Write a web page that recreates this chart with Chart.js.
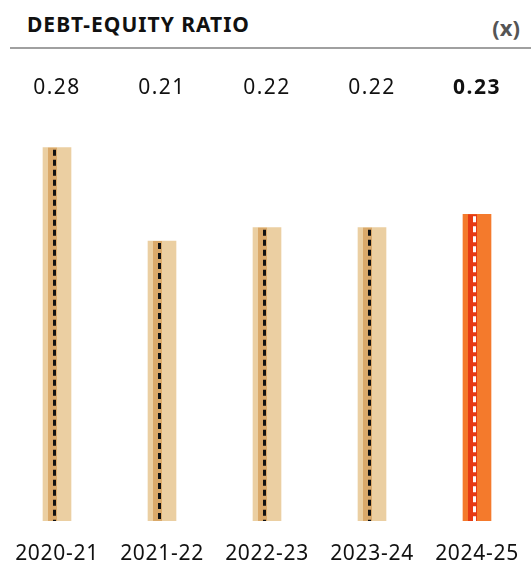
<!DOCTYPE html>
<html>
<head>
<meta charset="utf-8">
<script src="https://cdn.jsdelivr.net/npm/chart.js@4"></script>
<style>
  html, body { margin: 0; padding: 0; background: #fff; overflow: hidden; }
  body { width: 531px; height: 566px; position: relative; font-family: "Noto Sans", sans-serif; }
  .title { position: absolute; left: 27px; top: 10px; font-size: 21px; letter-spacing: 1px; font-weight: bold; color: #111; }
  .unit { position: absolute; right: 11px; top: 12px; font-size: 22px; font-weight: bold; color: #555; }
  .rule { position: absolute; left: 10px; right: 0; top: 47px; height: 2px; background: #a0a0a0; }
  .wrap { position: absolute; left: 0; top: 0; width: 531px; height: 566px; }
</style>
</head>
<body>
<div class="title">DEBT-EQUITY RATIO</div>
<div class="unit">(x)</div>
<div class="rule"></div>
<div class="wrap"><canvas id="chart"></canvas></div>
<script>
const years = ['2020-21', '2021-22', '2022-23', '2023-24', '2024-25'];
const ratios = [0.28, 0.21, 0.22, 0.22, 0.23];
const valueLabels = ['0.28', '0.21', '0.22', '0.22', '0.23'];

const lightColors = ['#ebcfa2', '#ebcfa2', '#ebcfa2', '#ebcfa2', '#f47a2c'];
const stripColors = ['#daa96a', '#daa96a', '#daa96a', '#daa96a', '#e63b14'];
const dashColors = ['#111', '#111', '#111', '#111', '#fff'];

// wider text spacing, closer to the original's font
const spacing = {
  id: 'spacing',
  beforeDraw(chart) {
    chart.ctx.letterSpacing = '0.7px';
  }
};

// inner strip, dashed line, and the values row above the bars
const barDecor = {
  id: 'barDecor',
  afterDatasetsDraw(chart) {
    const ctx = chart.ctx;
    const meta = chart.getDatasetMeta(0);
    meta.data.forEach((bar, i) => {
      const top = bar.y;
      const base = bar.base;
      ctx.save();
      ctx.fillStyle = stripColors[i];
      ctx.fillRect(bar.x - 9, top, 9, base - top);
      ctx.strokeStyle = dashColors[i];
      ctx.lineWidth = 3;
      ctx.setLineDash([6, 4]);
      ctx.beginPath();
      ctx.moveTo(bar.x - 2.5, top + 2);
      ctx.lineTo(bar.x - 2.5, base);
      ctx.stroke();
      ctx.restore();

      ctx.save();
      ctx.fillStyle = '#111';
      ctx.letterSpacing = '1.5px';
      ctx.font = (i === ratios.length - 1 ? 'bold ' : '') + '21px "Noto Sans"';
      ctx.textAlign = 'center';
      ctx.textBaseline = 'middle';
      ctx.fillText(valueLabels[i], bar.x, 88);
      ctx.restore();
    });
  }
};

new Chart(document.getElementById('chart'), {
  type: 'bar',
  data: {
    labels: years,
    datasets: [{
      data: ratios,
      backgroundColor: lightColors,
      barThickness: 28,
      borderWidth: 0
    }]
  },
  options: {
    responsive: true,
    maintainAspectRatio: false,
    animation: false,
    layout: { padding: { top: 121, left: 4.5, right: 1.5, bottom: 0 } },
    plugins: { legend: { display: false }, tooltip: { enabled: false } },
    scales: {
      x: {
        grid: { display: false, drawTicks: false },
        border: { display: false },
        ticks: { color: '#111', font: { family: 'Noto Sans', size: 21 }, padding: 20 },
        afterFit(scale) {
          // fixed label band under the bars, no extra side padding
          scale.height = 45;
          scale.paddingLeft = 0;
          scale.paddingRight = 0;
        }
      },
      y: {
        display: false,
        min: 0,
        max: 0.30
      }
    }
  },
  plugins: [spacing, barDecor]
});
</script>
</body>
</html>
